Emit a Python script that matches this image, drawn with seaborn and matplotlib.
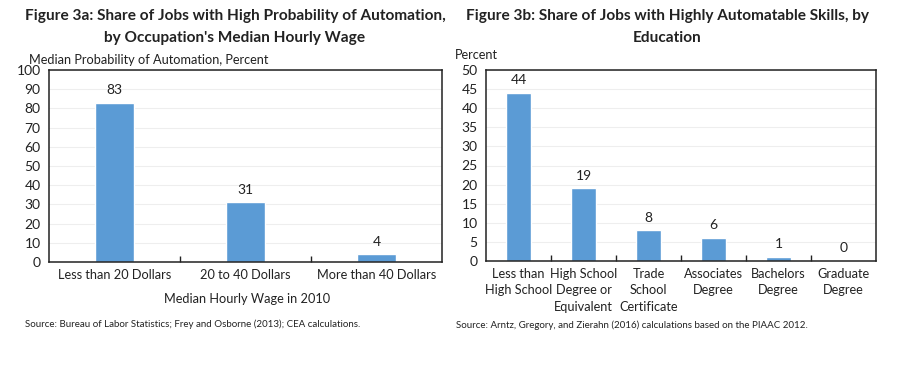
import matplotlib
matplotlib.use("Agg")
import matplotlib.pyplot as plt
import seaborn as sns
import pandas as pd
from matplotlib.ticker import FixedLocator

sns.set_theme(style="white")
plt.rcParams['font.family'] = ['Lato', 'DejaVu Sans']

# Data
wage_categories = ["Less than 20 Dollars", "20 to 40 Dollars", "More than 40 Dollars"]
wage_values = [83, 31, 4]
edu_categories = ["Less than\nHigh School", "High School\nDegree or\nEquivalent", "Trade\nSchool\nCertificate",
                  "Associates\nDegree", "Bachelors\nDegree", "Graduate\nDegree"]
edu_values = [44, 19, 8, 6, 1, 0]

left_title = "Figure 3a: Share of Jobs with High Probability of Automation,\nby Occupation's Median Hourly Wage"
right_title = "Figure 3b: Share of Jobs with Highly Automatable Skills, by\nEducation"
left_ylabel = "Median Probability of Automation, Percent"
right_ylabel = "Percent"
left_xlabel = "Median Hourly Wage in 2010"
left_source = "Source: Bureau of Labor Statistics; Frey and Osborne (2013); CEA calculations."
right_source = "Source: Arntz, Gregory, and Zierahn (2016) calculations based on the PIAAC 2012."

bar_color = "#5B9BD5"
txt = "#222222"
W, H = 900, 366
fig = plt.figure(figsize=(9, 3.66), dpi=100)

def px(x0, y0, x1, y1):
    return [x0 / W, 1 - y1 / H, (x1 - x0) / W, (y1 - y0) / H]

ax1 = fig.add_axes(px(49, 70, 442, 262))
ax2 = fig.add_axes(px(486, 70, 876, 261))

def style(ax, cats, vals, ymax, ystep, width, xfs):
    df = pd.DataFrame({"cat": cats, "val": vals})
    sns.barplot(data=df, x="cat", y="val", color=bar_color, saturation=1, width=width, ax=ax)
    ax.set_ylim(0, ymax)
    ax.set_xlim(-0.5, len(cats) - 0.5)
    ax.set_yticks(range(0, ymax + 1, ystep))
    ax.yaxis.grid(True, color="#eeeeee", linewidth=0.8)
    ax.set_axisbelow(True)
    for s in ax.spines.values():
        s.set_visible(True)
        s.set_color(txt)
        s.set_linewidth(1.1)
    ax.tick_params(axis="y", direction="in", length=3, color=txt, labelsize=10, pad=6, labelcolor=txt)
    ax.tick_params(axis="x", which="major", length=0, labelsize=xfs, pad=5, labelcolor=txt)
    ax.xaxis.set_minor_locator(FixedLocator([i + 0.5 for i in range(len(cats) - 1)]))
    ax.tick_params(axis="x", which="minor", direction="in", length=4, color=txt, bottom=True)
    ax.set_xlabel("")
    ax.set_ylabel("")
    for i, v in enumerate(vals):
        ax.text(i, v + ymax * 0.035, f"{v}", ha="center", va="bottom", fontsize=10, color=txt)

style(ax1, wage_categories, wage_values, 100, 10, 0.3, 9.2)
style(ax2, edu_categories, edu_values, 50, 5, 0.37, 9.2)
for lab in ax2.get_xticklabels():
    lab.set_linespacing(1.45)
    lab.set_va("top")

fig.text(235 / W, 1 - 9 / H, left_title, ha="center", va="top", fontsize=11.1, fontweight="bold",
         color=txt, linespacing=1.75)
fig.text(667 / W, 1 - 9 / H, right_title, ha="center", va="top", fontsize=11.1, fontweight="bold",
         color=txt, linespacing=1.75)
fig.text(29 / W, 1 - 60 / H, left_ylabel, ha="left", va="center", fontsize=9.2, color=txt)
fig.text(455 / W, 1 - 55 / H, right_ylabel, ha="left", va="center", fontsize=9.2, color=txt)
fig.text(247 / W, 1 - 299 / H, left_xlabel, ha="center", va="center", fontsize=9.2, color=txt)
fig.text(25 / W, 1 - 324 / H, left_source, ha="left", va="center", fontsize=7, color=txt)
fig.text(456 / W, 1 - 325 / H, right_source, ha="left", va="center", fontsize=7, color=txt)

fig.savefig("out.png", dpi=100, facecolor="white")
